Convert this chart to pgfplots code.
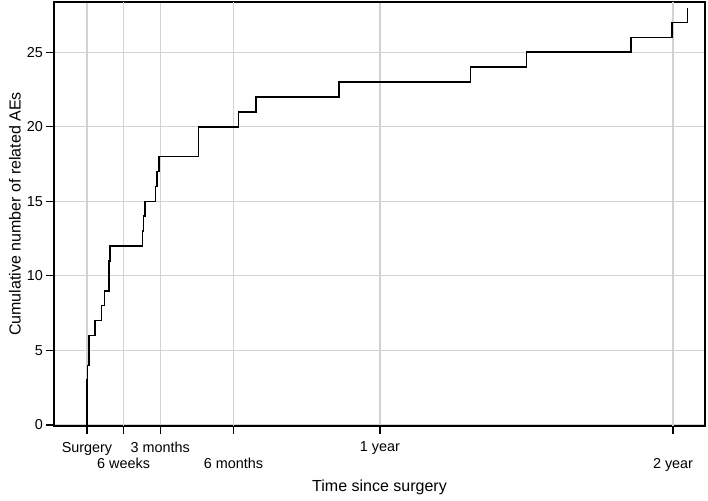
\documentclass[border=0pt]{standalone}
\usepackage{fontspec}
\setmainfont{Liberation Sans}
\usepackage{pgfplots}
\pgfplotsset{compat=1.18}
\definecolor{gridgray}{RGB}{210,210,210}
\begin{document}
\begin{tikzpicture}
\useasboundingbox (0,0) rectangle (708pt,500pt);
\begin{axis}[
  at={(54pt,74pt)}, anchor=south west,
  scale only axis, width=651pt, height=424pt,
  xmin=-1.35, xmax=25.31, ymin=-0.07, ymax=28.37,
  xtick={0,3,12}, xticklabels={Surgery,3 months,1 year},
  extra x ticks={1.5,6,24}, extra x tick labels={6 weeks,6 months,2 year},
  extra x tick style={grid=major, xticklabel style={yshift=-16pt}},
  xticklabel style={yshift=-5pt},
  ytick={0,5,10,15,20,25},
  grid=major, major grid style={gridgray, line width=1.2pt},
  tick align=outside, major tick length=7.5pt, tick style={black, line width=1.2pt},
  tick pos=left,
  axis line style={line width=1.3pt},
  /pgf/number format/assume math mode=true,
  ticklabel style={font=\fontsize{14.4}{16}\selectfont},
  xlabel={Time since surgery}, ylabel={Cumulative number of related AEs},
  every axis x label/.style={at={(axis description cs:0.5,-0.1439)}, anchor=center, font=\fontsize{16}{18}\selectfont},
  every axis y label/.style={at={(axis description cs:-0.0599,0.5)}, rotate=90, anchor=center, font=\fontsize{16}{18}\selectfont},
]
\addplot[const plot, black, line width=1.6pt] coordinates {
(0,0) (0,3) (0.03,4) (0.08,6) (0.33,7) (0.6,8) (0.71,9) (0.9,11) (0.95,12)
(2.28,13) (2.31,14) (2.38,15) (2.81,16) (2.86,17) (2.95,18) (4.57,20)
(6.21,21) (6.92,22) (10.31,23) (15.7,24) (18.0,25) (22.28,26) (23.96,27) (24.6,28)
};
\end{axis}
\end{tikzpicture}
\end{document}
